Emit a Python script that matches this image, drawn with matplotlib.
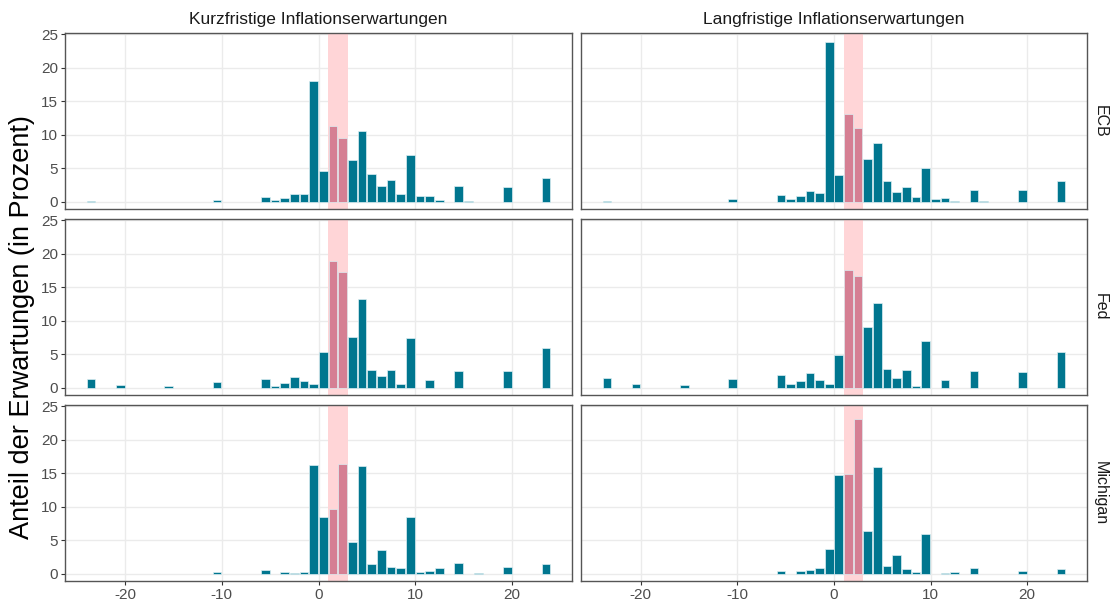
import matplotlib
matplotlib.use("Agg")
import matplotlib.pyplot as plt

plt.rcParams['font.family'] = ['Liberation Sans', 'DejaVu Sans']
plt.rcParams['axes.unicode_minus'] = False

# bin centres (inflation expectation in percent)
bins = [-23.5, -20.5, -15.5, -10.5, -5.5, -4.5, -3.5, -2.5, -1.5, -0.5,
        0.5, 1.5, 2.5, 3.5, 4.5, 5.5, 6.5, 7.5, 8.5, 9.5,
        10.5, 11.5, 12.5, 14.5, 15.5, 16.5, 19.5, 23.5]

ecb_kurz = [0.1, 0, 0, 0.3, 0.65, 0.2, 0.55, 1.1, 1.15, 18.1,
            4.6, 11.25, 9.5, 6.2, 10.6, 4.1, 2.3, 3.2, 1.1, 7.0,
            0.8, 0.9, 0.3, 2.35, 0.1, 0, 2.2, 3.6]
ecb_lang = [0.1, 0, 0, 0.4, 1.0, 0.35, 0.8, 1.65, 1.35, 23.9,
            4.0, 13.15, 11.05, 6.3, 8.7, 3.05, 1.45, 2.2, 0.65, 5.05,
            0.35, 0.6, 0.15, 1.7, 0.05, 0, 1.7, 3.15]
fed_kurz = [1.25, 0.4, 0.2, 0.9, 1.3, 0.2, 0.7, 1.55, 0.95, 0.55,
            5.3, 18.95, 17.3, 7.55, 13.2, 2.65, 1.8, 2.65, 0.5, 7.4,
            0, 1.2, 0, 2.55, 0, 0, 2.55, 5.9]
fed_lang = [1.45, 0.5, 0.35, 1.3, 1.9, 0.55, 1.0, 2.15, 1.15, 0.5,
            4.9, 17.6, 16.75, 9.05, 12.6, 2.8, 1.5, 2.6, 0.3, 6.9,
            0, 1.2, 0, 2.45, 0, 0, 2.4, 5.3]
mich_kurz = [0, 0, 0, 0.3, 0.55, 0, 0.3, 0.15, 0.2, 16.3,
             8.5, 9.6, 16.45, 4.75, 16.15, 1.4, 3.6, 1.0, 0.8, 8.45,
             0.3, 0.4, 0.8, 1.65, 0, 0.15, 1.05, 1.5]
mich_lang = [0, 0, 0, 0, 0.45, 0, 0.45, 0.6, 0.85, 3.7,
             14.8, 14.95, 23.1, 6.35, 16.0, 1.15, 2.85, 0.7, 0.3, 5.85,
             0, 0.1, 0.3, 0.9, 0, 0, 0.4, 0.75]

spalten = ['Kurzfristige Inflationserwartungen', 'Langfristige Inflationserwartungen']
zeilen = ['ECB', 'Fed', 'Michigan']
werte = [[ecb_kurz, ecb_lang], [fed_kurz, fed_lang], [mich_kurz, mich_lang]]
ziel = (1, 3)

W, H = 1114, 605
fig = plt.figure(figsize=(W / 100, H / 100), dpi=100)

col_x = [(65, 507), (581, 506)]
row_top = [33, 219, 405]
row_h = 176

teal = '#00768F'
mauve = '#D57F93'
grau = '#4D4D4D'

for r in range(3):
    for c in range(2):
        x0, w = col_x[c]
        ax = fig.add_axes([x0 / W, (H - row_top[r] - row_h) / H, w / W, row_h / H])
        ys = werte[r][c]
        xs = [b for b, v in zip(bins, ys) if v > 0]
        hs = [v for v in ys if v > 0]
        cols = [mauve if ziel[0] <= b <= ziel[1] else teal for b in xs]
        ax.axvspan(ziel[0], ziel[1], color='#FFD5D7', zorder=1, lw=0)
        ax.bar(xs, hs, width=0.9, color=cols, edgecolor='#DDEFF3',
               linewidth=0.5, zorder=2)
        ax.set_xlim(-26.2, 26.2)
        ax.set_ylim(-1.1, 25.2)
        ax.set_xticks([-20, -10, 0, 10, 20])
        ax.set_yticks([0, 5, 10, 15, 20, 25])
        ax.grid(True, color='#EBEBEB', lw=1.0, zorder=0)
        ax.set_axisbelow(True)
        for s in ax.spines.values():
            s.set_color('#555555')
            s.set_linewidth(1.0)
        ax.tick_params(colors='#333333', labelcolor=grau, labelsize=11,
                       length=3, width=0.8, pad=2)
        if r < 2:
            ax.tick_params(axis='x', bottom=False, labelbottom=False)
        if c == 1:
            ax.tick_params(axis='y', left=False, labelleft=False)
            ax.text(1.012, 0.5, zeilen[r], transform=ax.transAxes, rotation=-90,
                    ha='left', va='center', fontsize=11.5, color='#1A1A1A')
        if r == 0:
            ax.text(0.5, 1.035, spalten[c], transform=ax.transAxes,
                    ha='center', va='bottom', fontsize=12.5, color='#1A1A1A')

fig.text(22 / W, (H - 327) / H, 'Anteil der Erwartungen (in Prozent)',
         rotation=90, ha='center', va='center', fontsize=19.5, color='black')

fig.savefig('out.png', dpi=100)
